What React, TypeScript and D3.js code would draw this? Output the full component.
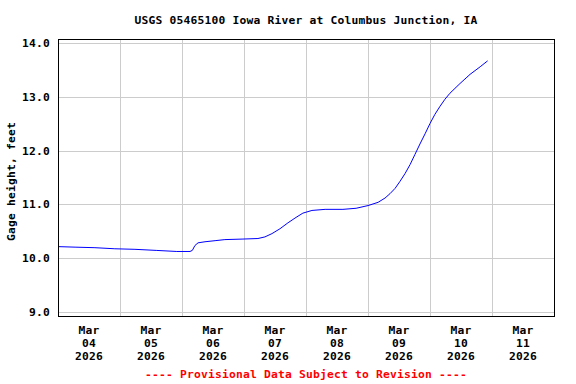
import React from 'react';
import * as d3 from 'd3';

// gage readings, hours after Mar 04 2026 00:00 and gage height in feet
const hours = [
  0, 6.6, 14.3, 22, 29.8, 38, 46, 51.1, 52, 53, 54.2, 56.9, 60.8, 64.6, 71.6, 77.4,
  80.1, 82.8, 85.9, 89, 92.1, 94.8, 98.3, 103.4, 110.3, 115.4, 120, 123.9, 126.6,
  128.5, 130.5, 132.4, 134.3, 136.3, 138.2, 140.1, 142.1, 144, 145.9, 147.9, 149.8,
  151.7, 155.6, 159.5, 163.4, 166.3,
];
const gageHeight = [
  10.22, 10.21, 10.2, 10.18, 10.17, 10.15, 10.13, 10.13, 10.15, 10.24, 10.29, 10.31,
  10.33, 10.35, 10.36, 10.37, 10.4, 10.46, 10.55, 10.66, 10.76, 10.84, 10.89, 10.91,
  10.91, 10.93, 10.98, 11.04, 11.12, 11.2, 11.3, 11.43, 11.57, 11.74, 11.93, 12.12,
  12.31, 12.5, 12.67, 12.82, 12.95, 13.06, 13.24, 13.41, 13.55, 13.66,
];

const yTicks = [9, 10, 11, 12, 13, 14];
const dayLabels = ['04', '05', '06', '07', '08', '09', '10', '11'];
const monthLabel = 'Mar';
const yearLabel = '2026';

const title = 'USGS 05465100 Iowa River at Columbus Junction, IA';
const yTitle = 'Gage height, feet';
const footer = '---- Provisional Data Subject to Revision ----';

const start = Date.UTC(2026, 2, 4);
const HOUR = 3600e3;
const DAY = 24 * HOUR;

const width = 576, height = 384;
const plot = { left: 58, right: 554, top: 39, bottom: 316 };
const font = '"DejaVu Sans Mono", monospace';

const App = () => {
  const x = d3.scaleUtc()
    .domain([new Date(start), new Date(start + dayLabels.length * DAY)])
    .range([plot.left, plot.right]);
  const y = d3.scaleLinear().domain([8.935, 14.065]).range([plot.bottom, plot.top]);

  const points = hours.map((h, i) => ({ t: new Date(start + h * HOUR), v: gageHeight[i] }));
  const line = d3.line<{ t: Date; v: number }>().x(d => x(d.t)).y(d => y(d.v));

  // day boundaries for the vertical grid
  const dayEdges = d3.range(1, dayLabels.length).map(k => new Date(start + k * DAY));
  const px = (v: number) => Math.round(v) + 0.5;

  const textStyle = { fontFamily: font, fontWeight: 'bold' as const, fontSize: 11.3, letterSpacing: 0.2 };

  return (
    <svg width={width} height={height} style={{ position: 'absolute', left: 0, top: 0, background: '#fff' }}>
      <rect width={width} height={height} fill="#fff" />
      <text x={306} y={24} textAnchor="middle" fill="#000" style={textStyle}>{title}</text>

      {/* grid */}
      <g stroke="#cccccc" strokeWidth={1} shapeRendering="crispEdges">
        {yTicks.map(t => <line key={t} x1={plot.left} x2={plot.right} y1={px(y(t))} y2={px(y(t))} />)}
        {dayEdges.map(d => <line key={+d} x1={px(x(d))} x2={px(x(d))} y1={plot.top} y2={plot.bottom} />)}
      </g>

      {/* gage line */}
      <path d={line(points) ?? ''} fill="none" stroke="#0000ff" strokeWidth={1} />

      {/* frame */}
      <rect x={plot.left + 0.5} y={plot.top + 0.5} width={plot.right - plot.left} height={plot.bottom - plot.top}
        fill="none" stroke="#000" strokeWidth={1} shapeRendering="crispEdges" />

      {/* y tick labels */}
      {yTicks.map(t => (
        <text key={t} x={50} y={y(t) + 4} textAnchor="end" fill="#000" style={textStyle}>{t.toFixed(1)}</text>
      ))}
      <text transform={`translate(15, ${(plot.top + plot.bottom) / 2 + 4}) rotate(-90)`} textAnchor="middle"
        fill="#000" style={textStyle}>{yTitle}</text>

      {/* x tick labels at noon of each day */}
      {dayLabels.map((d, k) => {
        const cx = x(new Date(start + k * DAY + 12 * HOUR));
        return (
          <text key={d} x={cx} textAnchor="middle" fill="#000" style={textStyle}>
            <tspan x={cx} y={334}>{monthLabel}</tspan>
            <tspan x={cx} y={347}>{d}</tspan>
            <tspan x={cx} y={360}>{yearLabel}</tspan>
          </text>
        );
      })}

      <text x={306} y={378} textAnchor="middle" fill="#ff0000" style={textStyle}>{footer}</text>
    </svg>
  );
};

export default App;
